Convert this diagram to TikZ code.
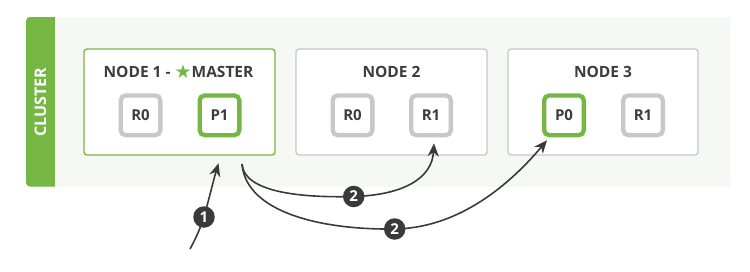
\documentclass[tikz,border=0pt]{standalone}
\usepackage{fontspec}
\setmainfont{Open Sans}
\newfontfamily\symfont{DejaVu Sans}
\usetikzlibrary{arrows.meta}
\definecolor{eg}{HTML}{76B643}
\definecolor{bgc}{HTML}{F6F8F4}
\definecolor{bord}{HTML}{C8C8C8}
\definecolor{txt}{HTML}{3D3D3D}
\definecolor{darkc}{HTML}{3A3A3A}
\tikzset{
  nodebox/.style={draw=bord, line width=1.3pt, fill=white, rounded corners=3pt},
  masterbox/.style={nodebox, draw=eg},
  shard/.style={draw=bord, line width=4.3pt, fill=white, rounded corners=5pt, minimum width=39.7pt, minimum height=39.7pt, inner sep=0pt, font=\fontsize{15}{17}\selectfont\bfseries, text=txt},
  pshard/.style={shard, draw=eg},
  title/.style={font=\fontsize{15.5}{18}\selectfont\bfseries, text=txt, inner sep=0pt},
  num/.style={circle, fill=darkc, text=white, minimum size=21.5pt, inner sep=0pt, font=\fontsize{15}{16}\selectfont\bfseries},
  arr/.style={draw=darkc, line width=1.6pt, -{Stealth[length=13pt,width=11pt,inset=4pt]}}
}
\begin{document}
\begin{tikzpicture}[x=1pt,y=-1pt]
\useasboundingbox (0,0) rectangle (750,271);
% cluster
\fill[bgc] (26,17) rectangle (730,186.5);
\fill[eg, rounded corners=4pt] (26,17) rectangle (60,186.5);
\fill[bgc] (55,17) rectangle (62,186.5);
\node[rotate=90, text=white, font=\fontsize{16}{18}\selectfont\bfseries, inner sep=0pt] (cl) at (40.5,102.5) {CLUSTER};
% node boxes
\node[masterbox, minimum width=191pt, minimum height=106pt] (n1) at (179.5,102) {};
\node[nodebox, minimum width=191pt, minimum height=106pt] (n2) at (391.5,102) {};
\node[nodebox, minimum width=190pt, minimum height=106pt] (n3) at (603,102) {};
% titles
\node[title] (t1) at (178.5,71.5) {NODE 1 - {\symfont\color{eg}\fontsize{19}{16}\selectfont\raisebox{-0.6pt}{★}}MASTER};
\node[title] (t2) at (391.5,71.5) {NODE 2};
\node[title] (t3) at (603,71.5) {NODE 3};
% shards
\node[shard] (a0) at (140.5,115.3) {R0};
\node[pshard] (p1) at (219.5,115.3) {P1};
\node[shard] (b0) at (352.5,115.3) {R0};
\node[shard] (b1) at (431,115.3) {R1};
\node[pshard] (p0) at (564,115.3) {P0};
\node[shard] (c1) at (643,115.3) {R1};
% connectors
\coordinate (o1) at (190,249);
\coordinate (s2) at (242,164);
\coordinate (c1p) at (204,217);
\coordinate (c2p) at (353.7,196.5);
\coordinate (c3p) at (394.7,229);
\draw[arr] (s2) .. controls (244,192) and (300,198) .. (c2p) .. controls (404,195) and (432,178) .. ([xshift=3pt,yshift=-6pt]b1.south);
\draw[arr] (s2) .. controls (246,212) and (320,230) .. (c3p) .. controls (455,228) and (505,190) .. ([xshift=5pt,yshift=-3pt]p0.south west);
\draw[arr] (o1) .. controls (196,238) and (200,229) .. (c1p) .. controls (209,199) and (213,182) .. ([xshift=-1pt,yshift=-26pt]p1.south);
\node[num] (l1) at (c1p) {1};
\node[num] (l2) at (c2p) {2};
\node[num] (l3) at (c3p) {2};
\end{tikzpicture}
\end{document}
